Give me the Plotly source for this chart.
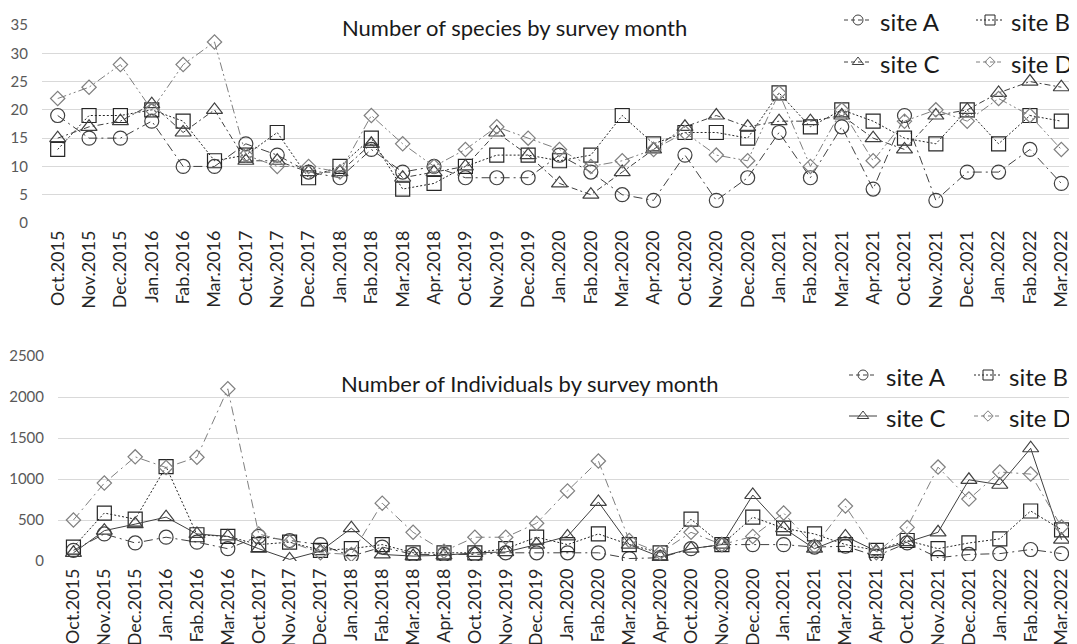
import plotly.graph_objects as go

months = ["Oct.2015", "Nov.2015", "Dec.2015", "Jan.2016", "Fab.2016", "Mar.2016",
          "Oct.2017", "Nov.2017", "Dec.2017", "Jan.2018", "Fab.2018", "Mar.2018",
          "Apr.2018", "Oct.2019", "Nov.2019", "Dec.2019", "Jan.2020", "Fab.2020",
          "Mar.2020", "Apr.2020", "Oct.2020", "Nov.2020", "Dec.2020", "Jan.2021",
          "Fab.2021", "Mar.2021", "Apr.2021", "Oct.2021", "Nov.2021", "Dec.2021",
          "Jan.2022", "Fab.2022", "Mar.2022"]

# Number of species
species_A = [19, 15, 15, 18, 10, 10, 14, 12, 9, 8, 13, 9, 10, 8, 8, 8, 12, 9, 5, 4,
             12, 4, 8, 16, 8, 17, 6, 19, 4, 9, 9, 13, 7]
species_B = [13, 19, 19, 20, 18, 11, 12, 16, 8, 10, 15, 6, 7, 10, 12, 12, 11, 12, 19, 14,
             16, 16, 15, 23, 17, 20, 18, 15, 14, 20, 14, 19, 18]
species_C = [15, 17, 18, 21, 16, 20, 11, 11, 9, 9, 14, 8, 9, 10, 16, 12, 7, 5, 9, 13,
             17, 19, 17, 18, 18, 19, 15, 13, 19, 20, 23, 25, 24]
species_D = [22, 24, 28, 20, 28, 32, 12, 10, 10, 9, 19, 14, 10, 13, 17, 15, 13, 10, 11, 13,
             16, 12, 11, 23, 10, 20, 11, 18, 20, 18, 22, 19, 13]

# Number of individuals
indiv_A = [130, 330, 220, 290, 230, 150, 300, 250, 200, 60, 170, 80, 80, 80, 100, 100, 100, 100,
           30, 40, 150, 200, 200, 200, 170, 180, 60, 220, 40, 80, 90, 140, 90]
indiv_B = [170, 585, 510, 1150, 320, 300, 200, 230, 130, 150, 200, 100, 100, 100, 150, 290, 200, 330,
           200, 100, 510, 200, 535, 400, 330, 200, 130, 250, 150, 220, 270, 610, 380]
indiv_C = [100, 370, 450, 535, 330, 300, 150, 20, 120, 400, 80, 60, 70, 100, 110, 200, 300, 720,
           200, 50, 150, 200, 805, 400, 150, 300, 120, 230, 350, 990, 930, 1375, 260]
indiv_D = [500, 950, 1270, 1140, 1265, 2100, 330, 230, 100, 80, 705, 350, 120, 290, 290, 460, 855, 1220,
           250, 100, 350, 200, 300, 585, 180, 670, 100, 410, 1145, 755, 1085, 1060, 415]

site_names = ["site A", "site B", "site C", "site D"]
titles = ["Number of species by survey month", "Number of Individuals by survey month"]

FONT = "Lato"
OFF = 8                     # page offset of the figure (browser body margin)
W, H = 1077 - OFF, 644 - OFF


def fx(p):                  # page pixel x -> paper fraction
    return (p - OFF) / W


def fy(p):                  # page pixel y -> paper fraction
    return 1 - (p - OFF) / H


marker_style = {
    "site A": dict(symbol="circle-open", size=14, color="#404040"),
    "site B": dict(symbol="square-open", size=14, color="#262626"),
    "site C": dict(symbol="triangle-up-open", size=14, color="#404040"),
    "site D": dict(symbol="diamond-open", size=11, color="#7f7f7f"),
}
leg_marker_size = {"site A": 10, "site B": 10, "site C": 10, "site D": 8}
top_dash = {
    "site A": "9px,4px,2px,4px",
    "site B": "2px,2px",
    "site C": "6px,3px,2px,3px",
    "site D": "9px,3px,2px,3px,2px,3px",
}
bot_dash = {
    "site A": "9px,4px,2px,4px",
    "site B": "2px,2px",
    "site C": "solid",
    "site D": "9px,4px,2px,4px",
}
leg_dash_top = {"site A": "4px,3px", "site B": "2px,2px", "site C": "4px,3px", "site D": "4px,3px"}
leg_dash_bot = {"site A": "4px,3px", "site B": "2px,2px", "site C": "solid", "site D": "4px,3px"}
line_col = {"site A": "#404040", "site B": "#262626", "site C": "#404040", "site D": "#7f7f7f"}

fig = go.Figure()

charts = [
    dict(series=[species_A, species_B, species_C, species_D], xa="x", ya="y", dash=top_dash),
    dict(series=[indiv_A, indiv_B, indiv_C, indiv_D], xa="x2", ya="y2", dash=bot_dash),
]

for ch in charts:
    for name, vals in zip(site_names, ch["series"]):
        ms = marker_style[name]
        fig.add_trace(go.Scatter(
            x=months, y=vals, name=name, mode="lines+markers", showlegend=False,
            xaxis=ch["xa"], yaxis=ch["ya"],
            line=dict(color=line_col[name], width=1, dash=ch["dash"][name]),
            marker=dict(symbol=ms["symbol"], size=ms["size"], color=ms["color"],
                        line=dict(width=1.2, color=ms["color"])),
        ))

# Legend keys drawn on an overlay axis in page pixels: (marker x, row y, text x)
legend_pos = [
    ([(858, 20, 878), (990, 20, 1009), (858, 62, 878), (990, 62, 1009)], leg_dash_top),
    ([(863, 375, 884), (988, 375, 1007), (863, 416, 884), (988, 416, 1007)], leg_dash_bot),
]
annotations = []
for pos, dashes in legend_pos:
    for name, (mx, my, tx) in zip(site_names, pos):
        ms = marker_style[name]
        fig.add_trace(go.Scatter(
            x=[mx - 14 - OFF, mx + 14 - OFF], y=[my - OFF, my - OFF], mode="lines",
            showlegend=False, hoverinfo="skip", xaxis="x3", yaxis="y3",
            line=dict(color=line_col[name], width=1, dash=dashes[name]),
        ))
        fig.add_trace(go.Scatter(
            x=[mx - OFF], y=[my - OFF], mode="markers",
            showlegend=False, hoverinfo="skip", xaxis="x3", yaxis="y3",
            marker=dict(symbol=ms["symbol"], size=leg_marker_size[name], color=ms["color"],
                        line=dict(width=1, color=ms["color"])),
        ))
        annotations.append(dict(
            text=name, x=fx(tx), y=fy(my + 1), xref="paper", yref="paper",
            showarrow=False, xanchor="left", yanchor="middle",
            font=dict(family=FONT, size=24, color="#1a1a1a"),
        ))

annotations += [
    dict(text=titles[0], x=fx(514), y=fy(27), xref="paper", yref="paper", showarrow=False,
         xanchor="center", yanchor="middle", font=dict(family=FONT, size=22, color="#1a1a1a")),
    dict(text=titles[1], x=fx(530), y=fy(383), xref="paper", yref="paper", showarrow=False,
         xanchor="center", yanchor="middle", font=dict(family=FONT, size=22, color="#1a1a1a")),
]

axis_x_common = dict(
    type="category", tickangle=-90, showgrid=False, showline=False, zeroline=False,
    ticks="", tickfont=dict(family=FONT, size=18, color="#262626"),
    range=[-0.5, len(months) - 0.5], ticklabelstandoff=3,
)
axis_y_common = dict(
    showgrid=True, gridcolor="#d9d9d9", gridwidth=1, zeroline=False, showline=False,
    ticks="", tickfont=dict(family=FONT, size=15, color="#595959"), ticklabelstandoff=13,
)

fig.update_layout(
    width=W, height=H,
    margin=dict(l=0, r=0, t=0, b=0, autoexpand=False),
    paper_bgcolor="white", plot_bgcolor="rgba(0,0,0,0)",
    font=dict(family=FONT),
    showlegend=False,
    xaxis=dict(domain=[fx(42), 1], anchor="y", **axis_x_common),
    yaxis=dict(domain=[fy(223), fy(25)], anchor="x", range=[0, 35], dtick=5, **axis_y_common),
    xaxis2=dict(domain=[fx(58), 1], anchor="y2", **axis_x_common),
    yaxis2=dict(domain=[fy(561), fy(356)], anchor="x2", range=[0, 2500], dtick=500, **axis_y_common),
    xaxis3=dict(domain=[0, 1], anchor="y3", range=[0, W], visible=False, fixedrange=True),
    yaxis3=dict(domain=[0, 1], anchor="x3", range=[H, 0], visible=False, fixedrange=True),
    annotations=annotations,
)

fig.write_html("out.html")
